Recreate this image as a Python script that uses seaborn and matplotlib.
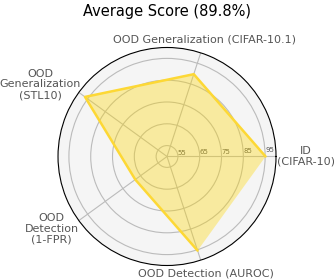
import numpy as np
import matplotlib
matplotlib.use("Agg")
import matplotlib.pyplot as plt
import seaborn as sns

# === data ===
labels = [
    "ID\n(CIFAR-10)",
    "OOD Generalization (CIFAR-10.1)",
    "OOD\nGeneralization\n(STL10)",
    "OOD\nDetection\n(1-FPR)",
    "OOD Detection (AUROC)",
]
scores = [95.2, 89.7, 96.5, 68.0, 95.4]
ring_ticks = [55, 65, 75, 85, 95]
avg_score = 89.8

# label placement around the rim: (ha, va, dx px, dy px)
label_layout = [
    ("left", "center", 1, 0),
    ("center", "bottom", 4, 8),
    ("right", "center", 2, 8),
    ("right", "center", 0, -8),
    ("center", "top", 5, -8),
]

sns.set_theme(style="whitegrid")
plt.rcParams["font.family"] = ["DejaVu Sans"]

angles = np.linspace(0, 2 * np.pi, len(labels), endpoint=False)
theta = np.concatenate([angles, angles[:1]])
r = np.concatenate([scores, scores[:1]])

fig = plt.figure(figsize=(3.34, 2.80), dpi=100)
ax = fig.add_axes([0.1737, 0.0518, 0.6527, 0.7786], projection="polar")
ax.set_facecolor("#f5f5f5")

ax.fill(theta, r, color="#ffd700", alpha=0.35, linewidth=0, zorder=2)
sns.lineplot(x=theta, y=r, sort=False, ax=ax, color="#fdd835", linewidth=1.8, zorder=3)

ax.set_ylim(50, 100)
ax.set_yticks(ring_ticks)
ax.set_yticklabels([str(t) for t in ring_ticks], fontsize=5, color="#555555")
ax.set_rlabel_position(2)
ax.set_xticks(angles)
ax.set_xticklabels([])
ax.grid(color="#bbbbbb", linewidth=0.8)
ax.spines["polar"].set_color("black")
ax.spines["polar"].set_linewidth(0.8)
ax.set_xlabel("")
ax.set_ylabel("")

# category labels just outside the rim
for ang, lab, (ha, va, dx, dy) in zip(angles, labels, label_layout):
    ax.annotate(lab, xy=(ang, 100), xytext=(dx, dy), textcoords="offset pixels",
                ha=ha, va=va, multialignment="center", fontsize=8,
                color="#555555", linespacing=1.1, annotation_clip=False)

fig.suptitle(f"Average Score ({avg_score}%)", fontsize=10.5, y=0.985, color="black")
fig.savefig("out.png", dpi=100)
